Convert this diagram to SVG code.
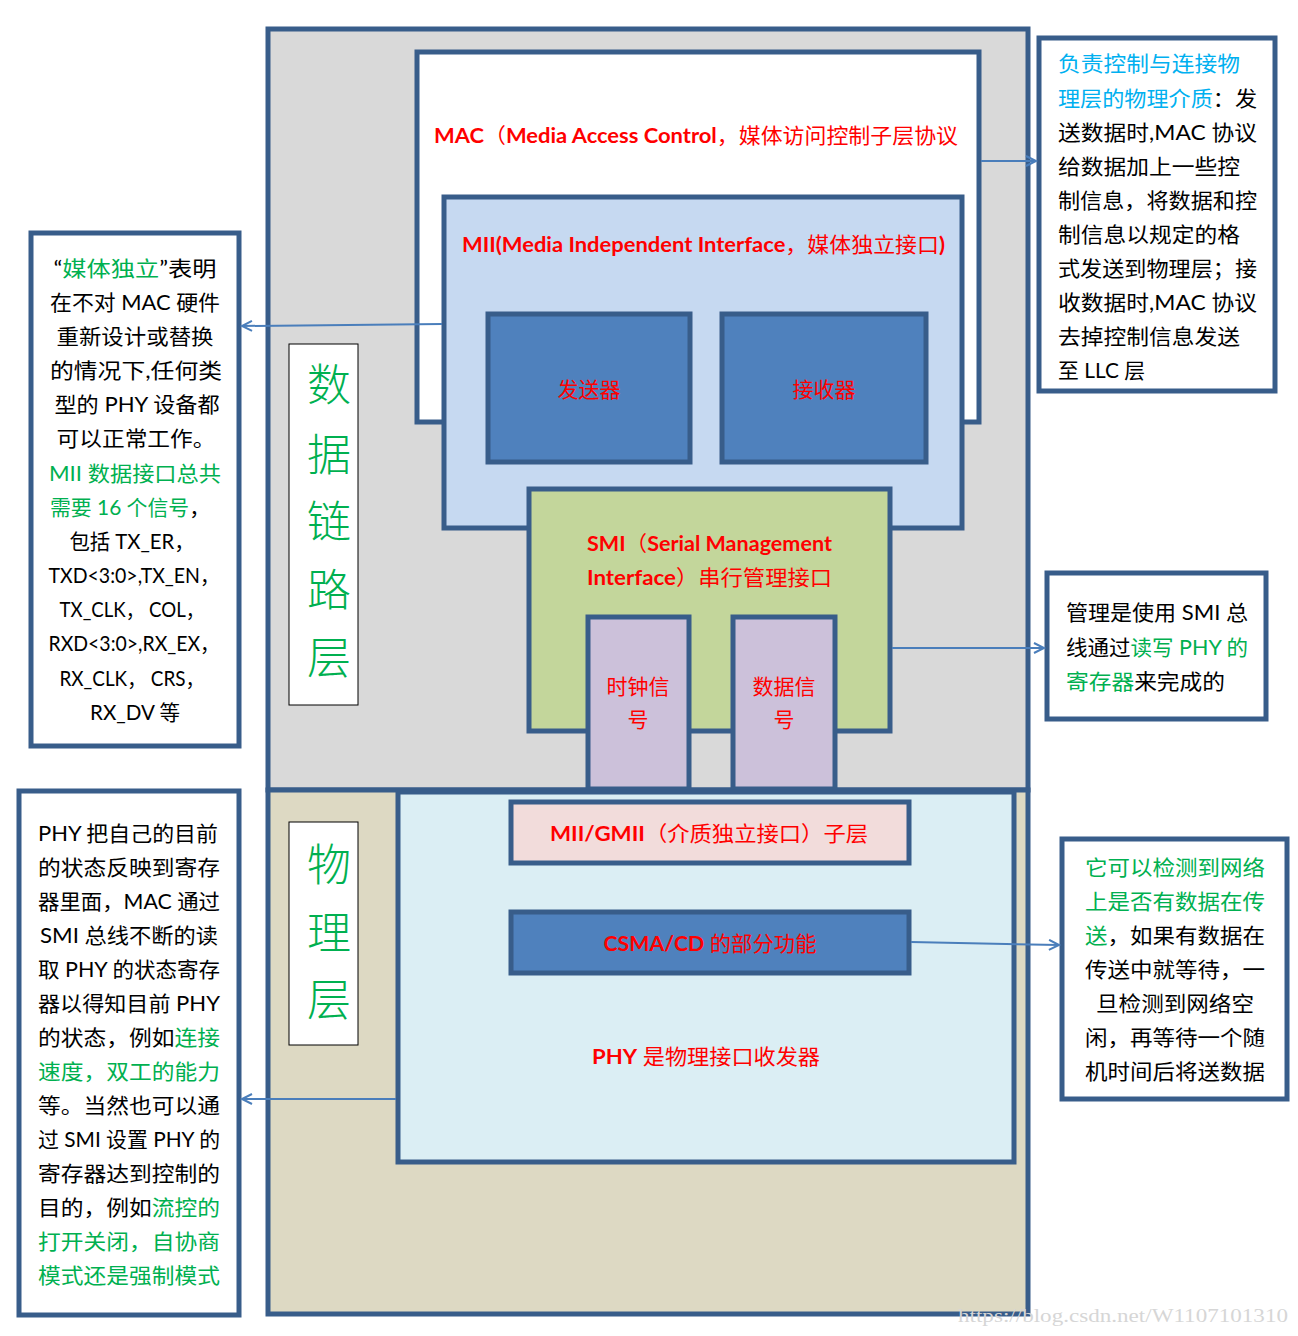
<svg xmlns="http://www.w3.org/2000/svg" width="1298" height="1336" viewBox="0 0 1298 1336">
<defs>
<style>
.frame{stroke:#385d8a;stroke-width:5}
.note{fill:#ffffff;stroke:#385d8a;stroke-width:5}
.lbl{fill:#ffffff;stroke:#000000;stroke-width:1}
.red{fill:#ff0000;font-family:Lato,"Noto Sans CJK SC",sans-serif;font-size:21px}
.side{fill:#000000;font-family:Lato,"Noto Sans CJK SC",sans-serif;font-size:21px}
.g{fill:#00b050}
.c{fill:#00b0f0}
.b{font-weight:bold}
.big{fill:#00b050;font-family:"Noto Sans CJK SC",sans-serif;font-size:44px;font-weight:300;text-anchor:middle}
.conn{stroke:#4a7ebb;stroke-width:2;fill:none}
</style>
<marker id="arr" markerWidth="14" markerHeight="14" refX="11" refY="6" orient="auto" markerUnits="userSpaceOnUse">
<path d="M1,1 L11,6 L1,11" fill="none" stroke="#4a7ebb" stroke-width="2"/>
</marker>
</defs>
<rect width="1298" height="1336" fill="#ffffff"/>

<g id="datalink-layer">
<rect x="268" y="29" width="760" height="761" fill="#d9d9d9" class="frame"/>
</g>
<g id="physical-layer">
<rect x="268" y="790" width="760" height="524" fill="#ddd9c3" class="frame"/>
</g>

<g id="mac">
<rect x="417" y="52" width="562" height="370" fill="#ffffff" class="frame"/>
<text class="red" x="434" y="143" textLength="524" lengthAdjust="spacingAndGlyphs"><tspan class="b">MAC</tspan>（<tspan class="b">Media Access Control</tspan>，媒体访问控制子层协议</text>
</g>

<g id="mii">
<rect x="444" y="197" width="518" height="331" fill="#c6d9f1" class="frame"/>
<text class="red" x="462" y="252" textLength="483" lengthAdjust="spacingAndGlyphs"><tspan class="b">MII(Media Independent Interface</tspan>，媒体独立接口<tspan class="b">)</tspan></text>
</g>

<g id="transmitter">
<rect x="488" y="314" width="202" height="148" fill="#4f81bd" class="frame"/>
<text class="red" x="589" y="397" text-anchor="middle" font-size="22">发送器</text>
</g>
<g id="receiver">
<rect x="722" y="314" width="204" height="148" fill="#4f81bd" class="frame"/>
<text class="red" x="824" y="397" text-anchor="middle" font-size="22">接收器</text>
</g>

<g id="smi">
<rect x="529" y="489" width="361" height="242" fill="#c3d69b" class="frame"/>
<text class="red" x="587" y="551" textLength="245" lengthAdjust="spacingAndGlyphs"><tspan class="b">SMI</tspan>（<tspan class="b">Serial Management</tspan></text>
<text class="red" x="587" y="585" textLength="245" lengthAdjust="spacingAndGlyphs"><tspan class="b">Interface</tspan>）串行管理接口</text>
</g>

<g id="clock-signal">
<rect x="588" y="617" width="101" height="172" fill="#ccc1da" class="frame"/>
<text class="red" x="638" y="694" text-anchor="middle">时钟信</text>
<text class="red" x="638" y="727" text-anchor="middle">号</text>
</g>
<g id="data-signal">
<rect x="733" y="617" width="102" height="172" fill="#ccc1da" class="frame"/>
<text class="red" x="784" y="694" text-anchor="middle">数据信</text>
<text class="red" x="784" y="727" text-anchor="middle">号</text>
</g>

<g id="datalink-label">
<rect x="289" y="344" width="69" height="361" class="lbl"/>
<text class="big" x="329" y="401">数</text>
<text class="big" x="329" y="471">据</text>
<text class="big" x="329" y="538">链</text>
<text class="big" x="329" y="606">路</text>
<text class="big" x="329" y="674">层</text>
</g>

<g id="phy">
<rect x="398" y="792" width="616" height="370" fill="#dbeef4" class="frame"/>
<text class="red" x="706" y="1064" text-anchor="middle" textLength="228" lengthAdjust="spacingAndGlyphs"><tspan class="b">PHY</tspan> 是物理接口收发器</text>
</g>
<g id="mii-gmii">
<rect x="511" y="802" width="398" height="61" fill="#f2dcdb" class="frame"/>
<text class="red" x="709" y="841" text-anchor="middle" textLength="318" lengthAdjust="spacingAndGlyphs"><tspan class="b">MII/GMII</tspan>（介质独立接口）子层</text>
</g>
<g id="csma-cd">
<rect x="511" y="912" width="398" height="61" fill="#4f81bd" class="frame"/>
<text class="red" x="710" y="951" text-anchor="middle" textLength="213" lengthAdjust="spacingAndGlyphs"><tspan class="b">CSMA/CD</tspan> 的部分功能</text>
</g>

<g id="physical-label">
<rect x="289" y="822" width="69" height="223" class="lbl"/>
<text class="big" x="329" y="881">物</text>
<text class="big" x="329" y="949">理</text>
<text class="big" x="329" y="1016">层</text>
</g>

<g id="note-mii">
<rect x="31" y="233" width="208" height="513" class="note"/>
<g class="side" text-anchor="middle">
<text x="135" y="276" textLength="163" lengthAdjust="spacingAndGlyphs">“<tspan class="g">媒体独立</tspan>”表明</text>
<text x="135" y="310" textLength="170" lengthAdjust="spacingAndGlyphs">在不对 MAC 硬件</text>
<text x="135" y="344" textLength="157" lengthAdjust="spacingAndGlyphs">重新设计或替换</text>
<text x="136" y="378" textLength="172" lengthAdjust="spacingAndGlyphs">的情况下,任何类</text>
<text x="137" y="412" textLength="165" lengthAdjust="spacingAndGlyphs">型的 PHY 设备都</text>
<text x="136" y="446" textLength="159" lengthAdjust="spacingAndGlyphs">可以正常工作。</text>
<text x="135" y="481" class="g" textLength="172" lengthAdjust="spacingAndGlyphs">MII 数据接口总共</text>
<text x="130" y="515" textLength="160" lengthAdjust="spacingAndGlyphs"><tspan class="g">需要 16 个信号</tspan>，</text>
<text x="132" y="549" textLength="125" lengthAdjust="spacingAndGlyphs">包括 TX_ER，</text>
<text x="134" y="583" textLength="171" lengthAdjust="spacingAndGlyphs">TXD&lt;3:0&gt;,TX_EN，</text>
<text x="132" y="617" textLength="145" lengthAdjust="spacingAndGlyphs">TX_CLK， COL，</text>
<text x="134" y="651" textLength="171" lengthAdjust="spacingAndGlyphs">RXD&lt;3:0&gt;,RX_EX，</text>
<text x="132" y="686" textLength="145" lengthAdjust="spacingAndGlyphs">RX_CLK， CRS，</text>
<text x="135" y="720" textLength="90" lengthAdjust="spacingAndGlyphs">RX_DV 等</text>
</g>
</g>

<g id="note-mac">
<rect x="1039" y="38" width="236" height="353" class="note"/>
<g class="side">
<text x="1058" y="71" class="c" textLength="182" lengthAdjust="spacingAndGlyphs">负责控制与连接物</text>
<text x="1058" y="106" textLength="199" lengthAdjust="spacingAndGlyphs"><tspan class="c">理层的物理介质</tspan>：发</text>
<text x="1058" y="140" textLength="199" lengthAdjust="spacingAndGlyphs">送数据时,MAC 协议</text>
<text x="1058" y="174" textLength="182" lengthAdjust="spacingAndGlyphs">给数据加上一些控</text>
<text x="1058" y="208" textLength="199" lengthAdjust="spacingAndGlyphs">制信息，将数据和控</text>
<text x="1058" y="242" textLength="182" lengthAdjust="spacingAndGlyphs">制信息以规定的格</text>
<text x="1058" y="276" textLength="199" lengthAdjust="spacingAndGlyphs">式发送到物理层；接</text>
<text x="1058" y="310" textLength="199" lengthAdjust="spacingAndGlyphs">收数据时,MAC 协议</text>
<text x="1058" y="344" textLength="182" lengthAdjust="spacingAndGlyphs">去掉控制信息发送</text>
<text x="1058" y="378" textLength="87" lengthAdjust="spacingAndGlyphs">至 LLC 层</text>
</g>
</g>

<g id="note-smi">
<rect x="1047" y="573" width="219" height="146" class="note"/>
<g class="side">
<text x="1066" y="620" textLength="182" lengthAdjust="spacingAndGlyphs">管理是使用 SMI 总</text>
<text x="1066" y="655" textLength="182" lengthAdjust="spacingAndGlyphs">线通过<tspan class="g">读写 PHY 的</tspan></text>
<text x="1066" y="689" textLength="159" lengthAdjust="spacingAndGlyphs"><tspan class="g">寄存器</tspan>来完成的</text>
</g>
</g>

<g id="note-csma">
<rect x="1062" y="839" width="225" height="260" class="note"/>
<g class="side">
<text x="1085" y="875" class="g" textLength="180" lengthAdjust="spacingAndGlyphs">它可以检测到网络</text>
<text x="1085" y="909" class="g" textLength="180" lengthAdjust="spacingAndGlyphs">上是否有数据在传</text>
<text x="1085" y="943" textLength="180" lengthAdjust="spacingAndGlyphs"><tspan class="g">送</tspan>，如果有数据在</text>
<text x="1085" y="977" textLength="180" lengthAdjust="spacingAndGlyphs">传送中就等待，一</text>
<text x="1096" y="1011" textLength="158" lengthAdjust="spacingAndGlyphs">旦检测到网络空</text>
<text x="1085" y="1045" textLength="180" lengthAdjust="spacingAndGlyphs">闲，再等待一个随</text>
<text x="1085" y="1079" textLength="180" lengthAdjust="spacingAndGlyphs">机时间后将送数据</text>
</g>
</g>

<g id="note-phy">
<rect x="19" y="791" width="220" height="524" class="note"/>
<g class="side">
<text x="38" y="841" textLength="180" lengthAdjust="spacingAndGlyphs">PHY 把自己的目前</text>
<text x="38" y="875" textLength="182" lengthAdjust="spacingAndGlyphs">的状态反映到寄存</text>
<text x="38" y="909" textLength="182" lengthAdjust="spacingAndGlyphs">器里面，MAC 通过</text>
<text x="40" y="943" textLength="178" lengthAdjust="spacingAndGlyphs">SMI 总线不断的读</text>
<text x="38" y="977" textLength="182" lengthAdjust="spacingAndGlyphs">取 PHY 的状态寄存</text>
<text x="38" y="1011" textLength="182" lengthAdjust="spacingAndGlyphs">器以得知目前 PHY</text>
<text x="38" y="1045" textLength="182" lengthAdjust="spacingAndGlyphs">的状态，例如<tspan class="g">连接</tspan></text>
<text x="38" y="1079" class="g" textLength="182" lengthAdjust="spacingAndGlyphs">速度，双工的能力</text>
<text x="38" y="1113" textLength="182" lengthAdjust="spacingAndGlyphs">等。当然也可以通</text>
<text x="38" y="1147" textLength="182" lengthAdjust="spacingAndGlyphs">过 SMI 设置 PHY 的</text>
<text x="38" y="1181" textLength="182" lengthAdjust="spacingAndGlyphs">寄存器达到控制的</text>
<text x="38" y="1215" textLength="182" lengthAdjust="spacingAndGlyphs">目的，例如<tspan class="g">流控的</tspan></text>
<text x="38" y="1249" class="g" textLength="182" lengthAdjust="spacingAndGlyphs">打开关闭，自协商</text>
<text x="38" y="1283" class="g" textLength="182" lengthAdjust="spacingAndGlyphs">模式还是强制模式</text>
</g>
</g>

<g id="connectors">
<path class="conn" d="M981,161 L1036,161" marker-end="url(#arr)"/>
<path class="conn" d="M442,324 L242,326" marker-end="url(#arr)"/>
<path class="conn" d="M892,648 L1044,648" marker-end="url(#arr)"/>
<path class="conn" d="M911,942 L1059,945" marker-end="url(#arr)"/>
<path class="conn" d="M396,1099 L242,1099" marker-end="url(#arr)"/>
</g>

<text x="958" y="1322" font-family="'Liberation Serif',serif" font-size="19" fill="#d6d6d6" textLength="330" lengthAdjust="spacingAndGlyphs">https://blog.csdn.net/W1107101310</text>
</svg>
